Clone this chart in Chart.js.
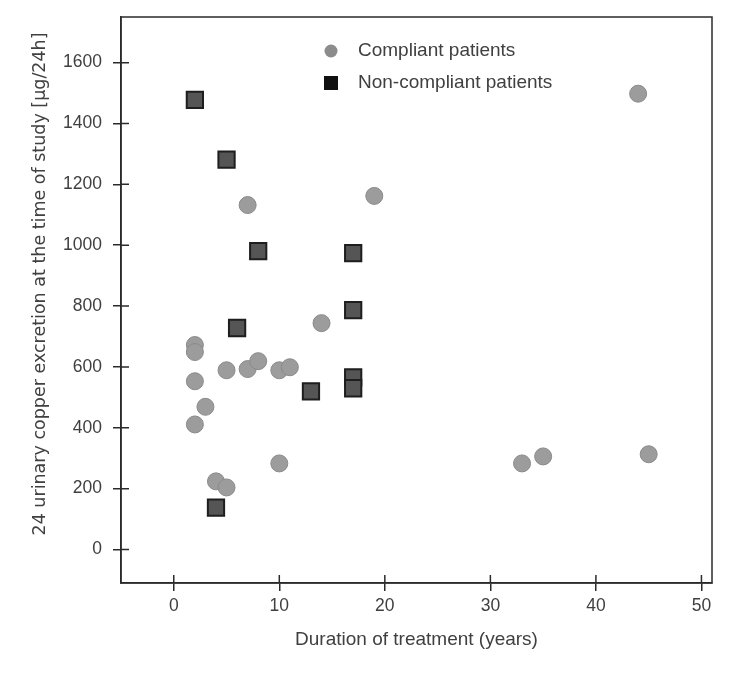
<!DOCTYPE html>
<html lang="en">
<head>
    <meta charset="UTF-8">
    <title>Urinary copper excretion vs duration of treatment</title>
    <style>
        body {
            margin: 0;
            padding: 0;
            background-color: #fff;
        }

        .chart-box {
            width: 750px;
            height: 675px;
            position: relative;
        }
    </style>
    <script src="https://cdn.jsdelivr.net/npm/chart.js"></script>
</head>
<body>
    <div class="chart-box">
        <canvas id="copperChart"></canvas>
    </div>

    <script>
        // data
        const compliantYears = [2, 2, 2, 2, 3, 4, 5, 5, 7, 8, 7, 10, 11, 10, 14, 19, 33, 35, 44, 45];
        const compliantCopper = [672, 649, 553, 411, 469, 224, 204, 589, 593, 619, 1132, 589, 599, 283, 744, 1162, 283, 306, 1498, 313];

        const nonCompliantYears = [2, 5, 8, 6, 17, 17, 13, 17, 17, 4];
        const nonCompliantCopper = [1478, 1281, 981, 728, 974, 787, 520, 566, 530, 138];

        const xTicks = [0, 10, 20, 30, 40, 50];
        const yTicks = [0, 200, 400, 600, 800, 1000, 1200, 1400, 1600];

        const legendLabels = ['Compliant patients', 'Non-compliant patients'];
        const xTitle = 'Duration of treatment (years)';
        const yTitle = '24 urinary copper excretion at the time of study [µg/24h]';

        const FONT = 'Liberation Sans';
        const TEXT = '#404040';
        const LINE = '#2b2b2b';

        function toPoints(xs, ys) {
            return xs.map((x, i) => ({ x: x, y: ys[i] }));
        }

        // frame round the plot, inner halves of the tick marks, y title and the legend inside the plot
        const framePlugin = {
            id: 'frame',
            afterDraw(chart) {
                const ctx = chart.ctx;
                const area = chart.chartArea;
                const xs = chart.scales.x;
                const ys = chart.scales.y;
                ctx.save();
                ctx.strokeStyle = LINE;
                ctx.lineWidth = 1.5;
                ctx.strokeRect(area.left, area.top, area.right - area.left, area.bottom - area.top);

                ctx.beginPath();
                xTicks.forEach(v => {
                    const px = xs.getPixelForValue(v);
                    ctx.moveTo(px, area.bottom);
                    ctx.lineTo(px, area.bottom - 8);
                });
                yTicks.forEach(v => {
                    const py = ys.getPixelForValue(v);
                    ctx.moveTo(area.left, py);
                    ctx.lineTo(area.left + 8, py);
                });
                ctx.stroke();

                // y title, a little above the middle as in the original
                ctx.fillStyle = TEXT;
                ctx.font = '17.5px "DejaVu Sans"';
                ctx.textAlign = 'center';
                ctx.textBaseline = 'middle';
                ctx.translate(40, 284);
                ctx.rotate(-Math.PI / 2);
                ctx.fillText(yTitle, 0, 0);
                ctx.setTransform(1, 0, 0, 1, 0, 0);

                // legend
                const lx = 331;
                const rows = [51, 83];
                ctx.font = '19px "' + FONT + '"';
                ctx.textAlign = 'left';
                legendLabels.forEach((label, i) => {
                    ctx.fillText(label, 358, rows[i]);
                });
                ctx.fillStyle = '#8c8c8c';
                ctx.beginPath();
                ctx.arc(lx, rows[0], 6.5, 0, Math.PI * 2);
                ctx.fill();
                ctx.fillStyle = '#111';
                ctx.fillRect(lx - 7, rows[1] - 7, 14, 14);
                ctx.restore();
            }
        };

        const ctx = document.getElementById('copperChart').getContext('2d');
        const copperChart = new Chart(ctx, {
            type: 'scatter',
            data: {
                datasets: [
                    {
                        label: legendLabels[0],
                        data: toPoints(compliantYears, compliantCopper),
                        pointStyle: 'circle',
                        pointRadius: 8.5,
                        backgroundColor: '#9c9c9c',
                        borderColor: '#8a8a8a',
                        borderWidth: 1
                    },
                    {
                        label: legendLabels[1],
                        data: toPoints(nonCompliantYears, nonCompliantCopper),
                        pointStyle: 'rect',
                        pointRadius: 11.5,
                        backgroundColor: '#555555',
                        borderColor: '#1e1e1e',
                        borderWidth: 2
                    }
                ]
            },
            options: {
                responsive: true,
                maintainAspectRatio: false,
                animation: false,
                layout: {
                    padding: { left: 0, top: 17, right: 38, bottom: 0 }
                },
                plugins: {
                    legend: { display: false },
                    tooltip: { enabled: false }
                },
                scales: {
                    x: {
                        type: 'linear',
                        min: -5,
                        max: 51,
                        afterBuildTicks: axis => { axis.ticks = xTicks.map(v => ({ value: v })); },
                        afterFit: axis => {
                            axis.height = 92;
                            axis.paddingLeft = 0;
                            axis.paddingRight = 0;
                        },
                        grid: {
                            drawOnChartArea: false,
                            drawTicks: true,
                            tickLength: 8,
                            color: LINE,
                            lineWidth: 1.5
                        },
                        border: { color: LINE, width: 1.5 },
                        ticks: {
                            padding: 5,
                            color: TEXT,
                            font: { family: FONT, size: 17.5 },
                            callback: v => String(v)
                        },
                        title: {
                            display: true,
                            text: xTitle,
                            color: TEXT,
                            font: { family: FONT, size: 19 },
                            padding: { top: 0, bottom: 24 }
                        }
                    },
                    y: {
                        type: 'linear',
                        min: -110,
                        max: 1750,
                        afterBuildTicks: axis => { axis.ticks = yTicks.map(v => ({ value: v })); },
                        afterFit: axis => {
                            axis.width = 121;
                            axis.paddingTop = 0;
                            axis.paddingBottom = 0;
                        },
                        grid: {
                            drawOnChartArea: false,
                            drawTicks: true,
                            tickLength: 8,
                            color: LINE,
                            lineWidth: 1.5
                        },
                        border: { color: LINE, width: 1.5 },
                        ticks: {
                            padding: 11,
                            color: TEXT,
                            font: { family: FONT, size: 17.5 },
                            callback: v => String(v)
                        },
                        title: { display: false }
                    }
                }
            },
            plugins: [framePlugin]
        });
    </script>
</body>
</html>
